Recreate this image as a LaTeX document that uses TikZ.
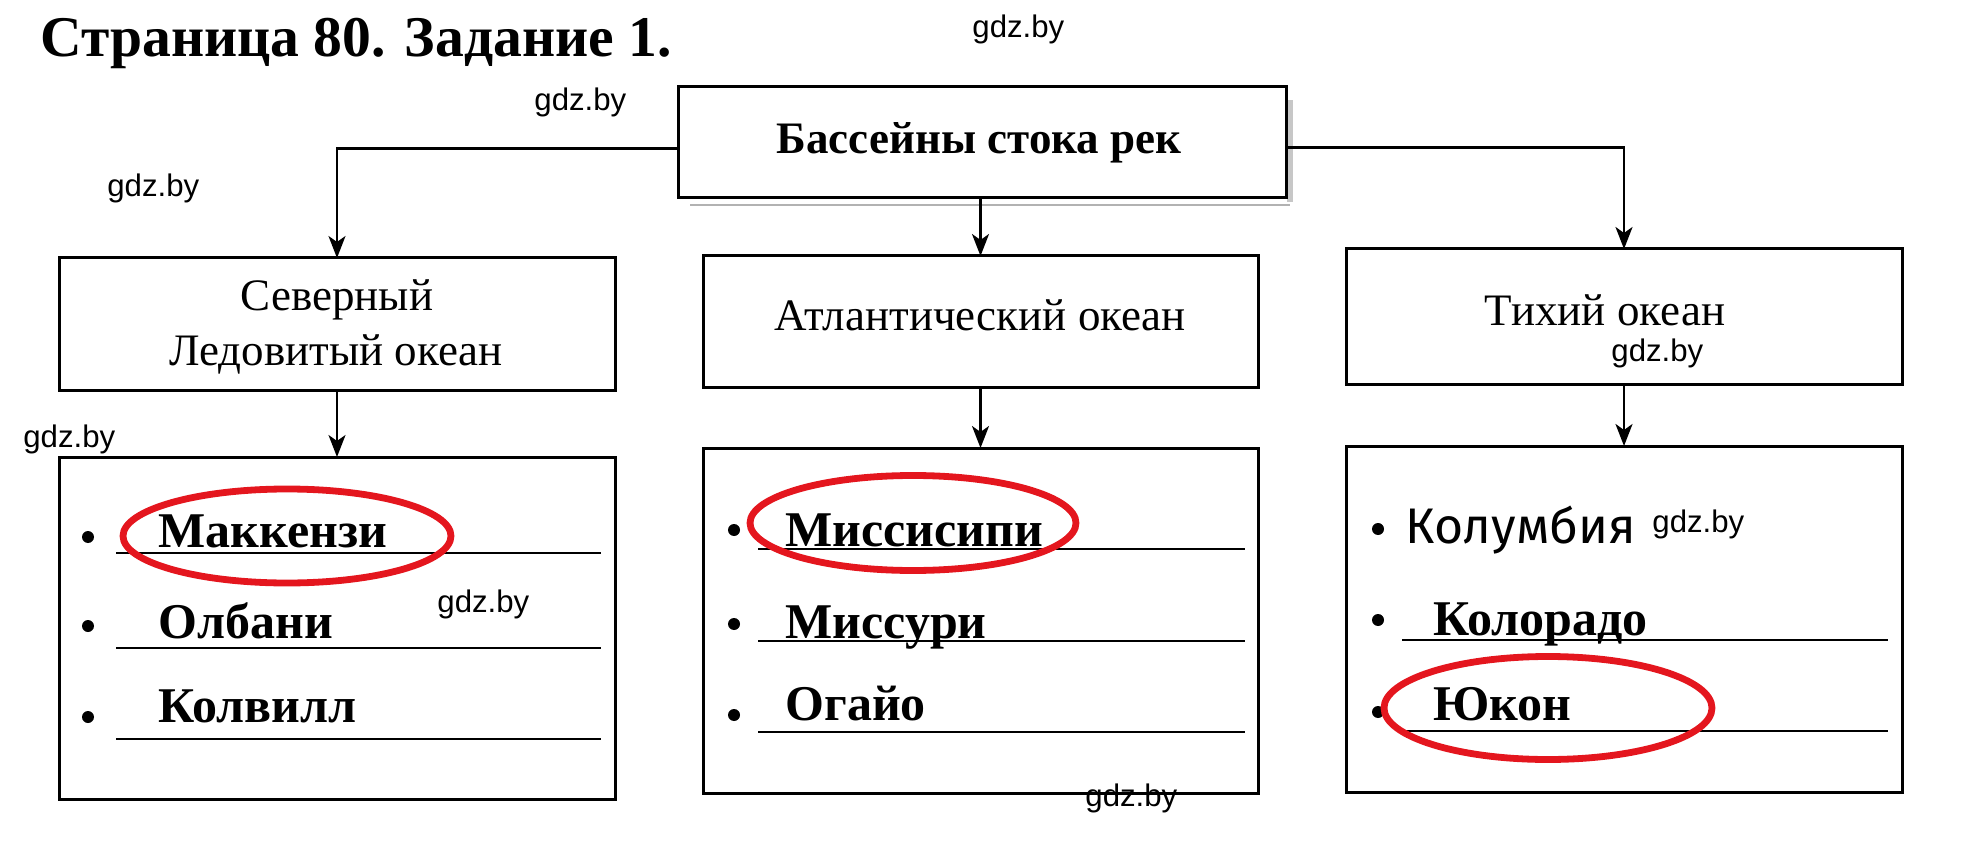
\documentclass[tikz,border=0pt]{standalone}
\usepackage{fontspec}
\setmainfont{Liberation Serif}
\newfontfamily\wmfont{Liberation Sans}
\newfontfamily\handfont{Fira Sans}
\usetikzlibrary{arrows.meta,shapes.geometric}
\definecolor{ovalred}{RGB}{228,22,30}
\tikzset{
  box/.style={draw, line width=1.5pt, inner sep=0pt, outer sep=0pt},
  arr/.style={line width=1.2pt, -{Stealth[length=11pt,width=8.5pt,inset=3pt]}},
  item/.style={anchor=base west, inner sep=0pt, font=\fontsize{25}{30}\selectfont\bfseries},
  hand/.style={anchor=base west, inner sep=0pt, font=\handfont\fontsize{25}{30}\selectfont},
  lbl/.style={anchor=base, inner sep=0pt, font=\fontsize{22.5}{27}\selectfont},
  wmk/.style={anchor=base west, inner sep=0pt, font=\wmfont\fontsize{15.6}{18}\selectfont},
  oval/.style={ellipse, draw=ovalred, line width=3.4pt, inner sep=0pt},
  uline/.style={line width=1.3pt},
  dot/.style={circle, fill, inner sep=0pt, minimum size=6pt}
}
\begin{document}
\begin{tikzpicture}[x=0.5pt,y=-0.5pt]
\useasboundingbox (0,0) rectangle (1980,844);
% title
\node[anchor=base west, inner sep=0pt, font=\fontsize{28.8}{34}\selectfont\bfseries] (title) at (40,57) {Страница 80. Задание 1.};
% boxes
\fill[black!22] (1287,100) rectangle (1293,202);
\draw[black!30, line width=0.8pt] (690,205) -- (1290,205);
\node[box, minimum width=608*0.5pt, minimum height=111*0.5pt] (top) at (982,142.5) {};
\node[box, minimum width=556*0.5pt, minimum height=133*0.5pt] (lo) at (337,324.5) {};
\node[box, minimum width=555*0.5pt, minimum height=132*0.5pt] (mo) at (980.5,322) {};
\node[box, minimum width=556*0.5pt, minimum height=136*0.5pt] (ro) at (1624,317) {};
\node[box, minimum width=556*0.5pt, minimum height=342*0.5pt] (ll) at (337,628) {};
\node[box, minimum width=555*0.5pt, minimum height=345*0.5pt] (ml) at (980.5,620.5) {};
\node[box, minimum width=556*0.5pt, minimum height=346*0.5pt] (rl) at (1624,619) {};
% box texts
\node[lbl, font=\fontsize{22.5}{27}\selectfont\bfseries] (toptext) at (979,154) {Бассейны стока рек};
\node[lbl] (lo1) at (337,311) {Северный};
\node[lbl] (lo2) at (336,365) {Ледовитый океан};
\node[lbl] (motext) at (980,331) {Атлантический океан};
\node[lbl] (rotext) at (1605,326) {Тихий океан};
% connectors
\draw[arr] ([yshift=-3pt]top.west) -| (lo.north);
\draw[arr] ([yshift=-2.5pt]top.east) -| (ro.north);
\draw[arr] (top.south -| mo.north) -- (mo.north);
\draw[arr] (lo.south) -- (ll.north);
\draw[arr] (mo.south) -- (ml.north);
\draw[arr] (ro.south) -- (rl.north);
% left list
\draw[uline] (116,553) -- (601,553);
\draw[uline] (116,648) -- (601,648);
\draw[uline] (116,739) -- (601,739);
\node[dot] (lb1) at (88,537) {};
\node[dot] (lb2) at (88,626) {};
\node[dot] (lb3) at (88,717) {};
\node[item] (l1) at (158,547) {Маккензи};
\node[item] (l2) at (158,638) {Олбани};
\node[item] (l3) at (158,722) {Колвилл};
% middle list
\draw[uline] (758,549) -- (1245,549);
\draw[uline] (758,641) -- (1245,641);
\draw[uline] (758,732) -- (1245,732);
\node[dot] (mb1) at (734,530) {};
\node[dot] (mb2) at (734,624) {};
\node[dot] (mb3) at (734,715) {};
\node[item] (m1) at (785,546) {Миссисипи};
\node[item] (m2) at (785,638) {Миссури};
\node[item] (m3) at (785,720) {Огайо};
% right list
\draw[uline] (1402,640) -- (1888,640);
\draw[uline] (1402,731) -- (1888,731);
\node[dot] (rb1) at (1378,529) {};
\node[dot] (rb2) at (1378,620) {};
\node[dot] (rb3) at (1378,712) {};
\node[hand] (r1) at (1405,543) {Колумбия};
\node[item] (r2) at (1433,635) {Колорадо};
\node[item] (r3) at (1433,720) {Юкон};
% red ovals
\node[oval, minimum width=328*0.5pt, minimum height=94*0.5pt] (e1) at (287,536) {};
\node[oval, minimum width=326*0.5pt, minimum height=95*0.5pt] (e2) at (913,523) {};
\node[oval, minimum width=328*0.5pt, minimum height=103*0.5pt] (e3) at (1548,708) {};
% watermarks
\node[wmk] (w1) at (972,38) {gdz.by};
\node[wmk] (w2) at (534,111) {gdz.by};
\node[wmk] (w3) at (107,197) {gdz.by};
\node[wmk] (w4) at (23,447) {gdz.by};
\node[wmk] (w5) at (437,612) {gdz.by};
\node[wmk] (w6) at (1085,806) {gdz.by};
\node[wmk] (w7) at (1611,362) {gdz.by};
\node[wmk] (w8) at (1652,532) {gdz.by};
\end{tikzpicture}
\end{document}
